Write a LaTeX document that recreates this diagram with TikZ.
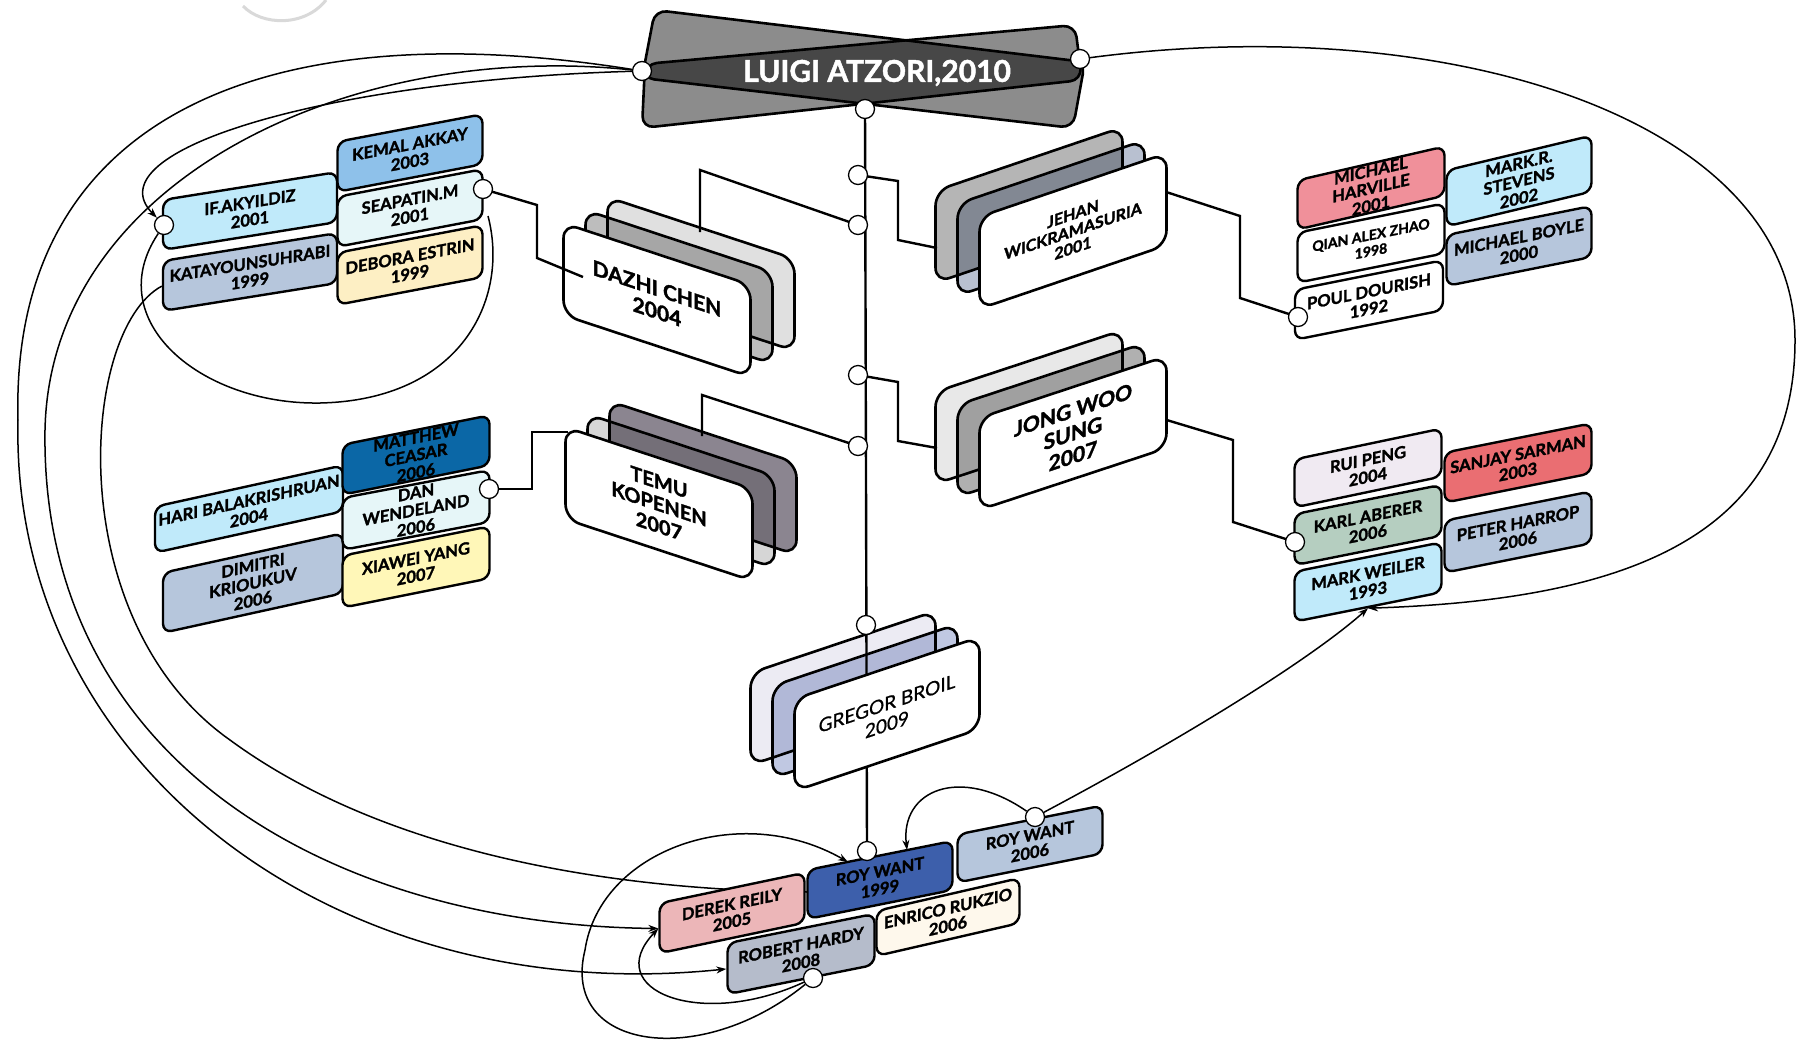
\documentclass[tikz,border=0pt]{standalone}
\usepackage{fontspec}
\setmainfont{Lato}[BoldFeatures={FakeBold=1.6}]
\usetikzlibrary{arrows.meta}
\definecolor{lblue}{HTML}{8EC1EA}
\definecolor{cyanl}{HTML}{E6F6F8}
\definecolor{yelA}{HTML}{FDEFC4}
\definecolor{sky}{HTML}{C0EAFA}
\definecolor{steel}{HTML}{B6C6DC}
\definecolor{dblue}{HTML}{0B67A6}
\definecolor{yelB}{HTML}{FFF7B8}
\definecolor{pinkA}{HTML}{F0909A}
\definecolor{lav}{HTML}{F0EAF2}
\definecolor{sage}{HTML}{B5CEC0}
\definecolor{redA}{HTML}{EA6E72}
\definecolor{pinkB}{HTML}{ECB6B8}
\definecolor{royal}{HTML}{3D5FAB}
\definecolor{cream}{HTML}{FEF8EC}
\definecolor{slate}{HTML}{B5BCCB}
\definecolor{lgray}{HTML}{8C8C8C}
\definecolor{dgray}{HTML}{474747}
\begin{document}
\begin{tikzpicture}[x=1pt,y=-1pt,
  sbox/.style={draw, line width=2.4pt, rounded corners=9pt, minimum width=145pt,
    minimum height=50pt, inner sep=1pt, align=center,
    font=\bfseries\fontsize{16.5}{17.5}\selectfont, yslant=#1},
  sbox/.default=0.2,
  bbox/.style={draw, line width=2.6pt, rounded corners=15pt, minimum width=187pt,
    minimum height=92pt, inner sep=2pt, align=center, yslant=#1},
  port/.style={circle, draw, fill=white, line width=1.3pt, minimum size=19pt, inner sep=0pt},
  conn/.style={line width=2.4pt},
  crv/.style={line width=1.5pt},
  arr/.style={-{Stealth[length=10pt,width=7pt]}},
]
\useasboundingbox (0,0) rectangle (1798,1050);
\fill[white] (0,0) rectangle (1798,1050);

% faint arc
\draw[black!15, line width=3pt] (243,6) .. controls (262,26) and (305,27) .. (326,0);

\coordinate (cLL) at (642,71);
\coordinate (cLR) at (1080,59);
\coordinate (cLB) at (865,109);

% ---- main vertical line and elbow connectors
\draw[conn] (cLB) -- (867,851);
\draw[conn] (858,175) -- (898,181) -- (898,240) -- (937,248);
\draw[conn] (858,225) -- (700,170) -- (700,232);
\draw[conn] (858,375) -- (898,382) -- (898,441) -- (937,448);
\draw[conn] (858,446) -- (702,395) -- (702,436);
\draw[conn] (1160,190) -- (1240,216) -- (1240,298) -- (1298,317);
\draw[conn] (1160,418) -- (1233,440) -- (1233,522) -- (1295,542);
\draw[conn] (489,489) -- (532,489) -- (532,432) -- (568,432);

% ---- Luigi shape
\def\bandA{(655,10) -- (1085,62) -- (1073,128) -- (642,78) -- cycle}
\def\bandB{(645,64) -- (1075,25) -- (1082,80) -- (642,128) -- cycle}
\fill[lgray, rounded corners=12pt] \bandA;
\fill[lgray, rounded corners=12pt] \bandB;
\begin{scope}
  \clip[rounded corners=12pt] \bandA;
  \fill[dgray, rounded corners=12pt] \bandB;
\end{scope}
\draw[line width=2.6pt, rounded corners=12pt, line join=round] \bandA;
\draw[line width=2.6pt, rounded corners=12pt, line join=round] \bandB;
\node[text=white, font=\bfseries\fontsize{30}{30}\selectfont] (luigi) at (877,73) {LUIGI ATZORI,2010};

% ---- curve hidden behind bottom boxes
\node[sbox=0.16, minimum width=174pt, fill=steel] (kata) at (250,272) {KATAYOUNSUHRABI\\1999};
\draw[crv] (kata.west) .. controls (80,330) and (60,620) .. (230,740)
  .. controls (380,850) and (600,890) .. (808,892);

% ---- big 3D boxes
\begin{scope}[blend mode=multiply]
  \node[bbox=-0.33, fill=black!12] (dazhiC) at (701,274) {};
  \node[bbox=-0.33, fill=black!26] (dazhiB) at (679,287) {};
  \node[bbox=-0.33, fill={rgb,255:red,139;green,133;blue,144}] (temuC) at (703,478) {};
  \node[bbox=-0.33, fill=black!16] (temuB) at (681,491) {};
  \node[bbox=0.34, fill=black!29] (jehanC) at (1029,205) {};
  \node[bbox=0.34, fill={rgb,255:red,184;green,192;blue,208}] (jehanB) at (1051,218) {};
  \node[bbox=0.33, fill=black!9] (jongC) at (1029,407) {};
  \node[bbox=0.33, fill=black!31] (jongB) at (1051,420) {};
  \node[bbox=0.335, minimum width=185pt, fill={rgb,255:red,236;green,235;blue,243}] (gregC) at (843,688) {};
  \node[bbox=0.335, minimum width=185pt, fill={rgb,255:red,192;green,200;blue,226}] (gregB) at (865,701) {};
\end{scope}
\node[bbox=-0.33, fill=white, font=\bfseries\fontsize{21}{23}\selectfont] (dazhi) at (657,300) {DAZHI CHEN\\2004};
\node[bbox=-0.33, fill=white, font=\bfseries\fontsize{20}{22}\selectfont] (temu) at (659,504) {TEMU\\KOPENEN\\2007};
\node[bbox=0.34, fill=white, font=\bfseries\fontsize{16}{17}\selectfont] (jehan) at (1073,231) {JEHAN\\WICKRAMASURIA\\2001};
\node[bbox=0.33, fill=white, font=\bfseries\fontsize{21}{23}\selectfont] (jong) at (1073,433) {JONG WOO\\SUNG\\2007};
\node[bbox=0.335, minimum width=185pt, fill=white, font=\addfontfeatures{FakeBold=0.8}\fontsize{19}{21}\selectfont] (gregor) at (887,714) {GREGOR BROIL\\2009};

\draw[conn] (483,189) -- (537,205) -- (537,258) -- (583,277);

% ---- small boxes, left top
\node[sbox=0.19, fill=lblue] (kemal) at (410,153) {KEMAL AKKAY\\2003};
\node[sbox=0.19, fill=cyanl] (seap) at (410,208) {SEAPATIN.M\\2001};
\node[sbox=0.19, fill=yelA, minimum height=52pt] (debora) at (410,265) {DEBORA ESTRIN\\1999};
\node[sbox=0.16, minimum width=174pt, fill=sky] (ifak) at (250,211) {IF.AKYILDIZ\\2001};
% left bottom
\node[sbox=0.22, minimum width=188pt, minimum height=46pt, fill=sky] (hari) at (249,509) {HARI BALAKRISHRUAN\\2004};
\node[sbox=0.22, minimum width=180pt, minimum height=60pt, fill=steel] (dimitri) at (253,583) {DIMITRI\\KRIOUKUV\\2006};
\node[sbox=0.2, minimum width=147pt, fill=dblue] (matthew) at (416,455) {MATTHEW\\CEASAR\\2006};
\node[sbox=0.19, minimum width=147pt, minimum height=52pt, fill=cyanl] (dan) at (416,510) {DAN\\WENDELAND\\2006};
\node[sbox=0.2, minimum width=147pt, minimum height=52pt, fill=yelB] (xiawei) at (416,567) {XIAWEI YANG\\2007};
% right top
\node[sbox=0.23, minimum width=147pt, minimum height=46pt, fill=pinkA] (harville) at (1371,188) {MICHAEL\\HARVILLE\\2001};
\node[sbox=0.2, minimum width=147pt, fill=white, font=\bfseries\fontsize{14}{16}\selectfont] (qian) at (1371,243) {QIAN ALEX ZHAO\\1998};
\node[sbox=0.2, minimum width=148pt, fill=white] (poul) at (1369,300) {POUL DOURISH\\1992};
\node[sbox=0.24, minimum height=56pt, fill=sky] (stevens) at (1519,181) {MARK.R.\\STEVENS\\2002};
\node[sbox=0.2, minimum height=51pt, fill=steel] (boyle) at (1519,246) {MICHAEL BOYLE\\2000};
% right bottom
\node[sbox=0.21, minimum width=147pt, minimum height=48pt, fill=lav] (rui) at (1368,468) {RUI PENG\\2004};
\node[sbox=0.2, minimum width=147pt, minimum height=51pt, fill=sage] (karl) at (1368,525) {KARL ABERER\\2006};
\node[sbox=0.2, minimum width=147pt, fill=sky] (weiler) at (1368,582) {MARK WEILER\\1993};
\node[sbox=0.2, minimum width=147pt, fill=redA] (sanjay) at (1518,463) {SANJAY SARMAN\\2003};
\node[sbox=0.2, minimum width=147pt, minimum height=52pt, fill=steel] (peter) at (1518,532) {PETER HARROP\\2006};
% bottom cluster
\node[sbox=0.21, fill=pinkB] (derek) at (732,913) {DEREK REILY\\2005};
\node[sbox=0.2, minimum height=49pt, fill=royal] (roy99) at (880,880) {ROY WANT\\1999};
\node[sbox=0.23, minimum width=143pt, minimum height=45pt, fill=cream] (enrico) at (948,917) {ENRICO RUKZIO\\2006};
\node[sbox=0.2, minimum height=48pt, fill=steel] (roy06) at (1030,844) {ROY WANT\\2006};
\node[sbox=0.2, minimum width=147pt, minimum height=51pt, fill=slate] (robert) at (801,954) {ROBERT HARDY\\2008};

% ---- ports
\node[port] (pLL) at (cLL) {};
\node[port] (pLR) at (cLR) {};
\node[port] (pLB) at (cLB) {};
\node[port] (p1) at (858,175) {};
\node[port] (p2) at (858,225) {};
\node[port] (p3) at (858,375) {};
\node[port] (p4) at (858,446) {};
\node[port] (pgreg) at (866,625) {};
\node[port] (proy99) at (867,851) {};
\node[port] (pseap) at (483,189) {};
\node[port] (pdan) at (489,489) {};
\node[port] (pif) at (164,225) {};
\node[port] (ppoul) at (1298,317) {};
\node[port] (pkarl) at (1295,542) {};
\node[port] (proy06) at (1035,817) {};
\node[port] (prob) at (813,978) {};

% ---- long curves
\coordinate (r99in) at (907,850);
\coordinate (r99inB) at (848,862);
\draw[crv, arr] (pLL) .. controls (260,10) and (10,120) .. (18,420)
  .. controls (10,760) and (330,1010) .. (robert.west);
\draw[crv, arr] (pLL) .. controls (350,40) and (50,180) .. (45,430)
  .. controls (40,760) and (330,925) .. (derek.west);
\draw[crv, arr] (pLL) .. controls (330,80) and (90,150) .. (pif);
\draw[crv] (pif) .. controls (100,320) and (200,405) .. (320,403)
  .. controls (460,400) and (510,300) .. (488,216);
\draw[crv, arr] (pLR) .. controls (1450,10) and (1795,120) .. (1795,340)
  .. controls (1795,540) and (1620,600) .. (weiler.south);
\draw[crv, arr] (proy06) .. controls (1180,740) and (1310,660) .. (weiler.south);
\draw[crv, arr] (proy06) .. controls (960,765) and (900,790) .. (r99in);
\draw[crv, arr] (prob) .. controls (700,1070) and (560,1050) .. (585,950)
  .. controls (600,850) and (740,800) .. (r99inB);
\draw[crv, arr] (prob) .. controls (700,1030) and (600,990) .. (derek.west);
\end{tikzpicture}
\end{document}
